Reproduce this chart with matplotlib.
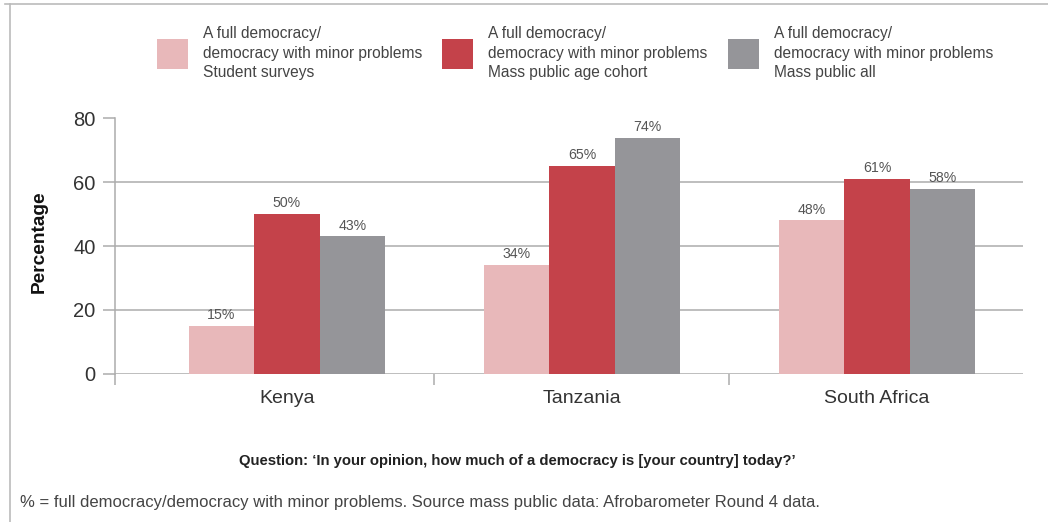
import numpy as np
import matplotlib.pyplot as plt
from matplotlib.lines import Line2D

plt.rcParams['font.family'] = ['Liberation Sans', 'DejaVu Sans']

countries = ['Kenya', 'Tanzania', 'South Africa']
series = ['A full democracy/\ndemocracy with minor problems\nStudent surveys',
          'A full democracy/\ndemocracy with minor problems\nMass public age cohort',
          'A full democracy/\ndemocracy with minor problems\nMass public all']
student = [15, 34, 48]
age_cohort = [50, 65, 61]
public_all = [43, 74, 58]
colors = ['#e8b8ba', '#c4424a', '#959599']
yticks = [0, 20, 40, 60, 80]

W, H = 1048, 522
fig = plt.figure(figsize=(W / 100, H / 100), dpi=100)
ax = fig.add_axes([115 / W, 1 - 373.5 / H, (1023 - 115) / W, (373.5 - 118.5) / H])

x = np.arange(len(countries))
bw = 0.222
grid_c = '#acacac'
handles = []
for i, (vals, c) in enumerate(zip([student, age_cohort, public_all], colors)):
    b = ax.bar(x + (i - 1) * bw, vals, bw, color=c, zorder=3, linewidth=0)
    handles.append(b)
    for xi, v in zip(x + (i - 1) * bw, vals):
        ax.text(xi, v + 1.2, f'{v}%', ha='center', va='bottom', fontsize=10.2, color='#555555')

ax.set_xlim(-0.583, 2.495)
ax.set_ylim(0, 80)
ax.set_yticks(yticks)
ax.set_yticklabels([str(t) for t in yticks], fontsize=14.5, color='#333333')
ax.tick_params(axis='y', length=8.6, width=1.1, color=grid_c, pad=5.5)
ax.yaxis.grid(True, color=grid_c, linewidth=1.1, zorder=0)
ax.set_xticks(x)
ax.set_xticklabels(countries, fontsize=14, color='#333333')
ax.tick_params(axis='x', length=0, pad=12)
ax.set_xticks([-0.583, 0.5, 1.5], minor=True)
ax.tick_params(axis='x', which='minor', length=8, width=1.1, color=grid_c)
for s in ['top', 'right', 'bottom']:
    ax.spines[s].set_visible(False)
ax.spines['left'].set_color(grid_c)
ax.spines['left'].set_linewidth(1.1)
ax.set_ylabel('Percentage', fontsize=13.8, fontweight='bold', color='#111111')
ax.yaxis.set_label_coords((48 - 115) / (1023 - 115), (373.5 - 241.5) / (373.5 - 118.5))

leg = fig.legend([h[0] for h in handles], series, loc='upper center',
                 bbox_to_anchor=(575 / W, 1 - 12 / H), ncol=3, frameon=False,
                 fontsize=11.2, handlelength=2.0, handleheight=2.6,
                 handletextpad=0.96, columnspacing=1.3, labelcolor='#444444')
for t in leg.get_texts():
    t.set_linespacing(1.38)

fig.text(517 / W, 1 - 461 / H, "Question: \u2018In your opinion, how much of a democracy is [your country] today?\u2019",
         ha='center', va='center', fontsize=10.7, fontweight='bold', color='#222222')
fig.text(20 / W, 1 - 503 / H,
         '% = full democracy/democracy with minor problems. Source mass public data: Afrobarometer Round 4 data.',
         ha='left', va='center', fontsize=12.0, color='#444444')

fig.add_artist(Line2D([5 / W, 1], [1 - 4 / H, 1 - 4 / H], color='#bbbbbb', linewidth=1.2))
fig.add_artist(Line2D([10 / W, 10 / W], [0, 1 - 4 / H], color='#bbbbbb', linewidth=1.2))

fig.savefig('out.png', dpi=100)
